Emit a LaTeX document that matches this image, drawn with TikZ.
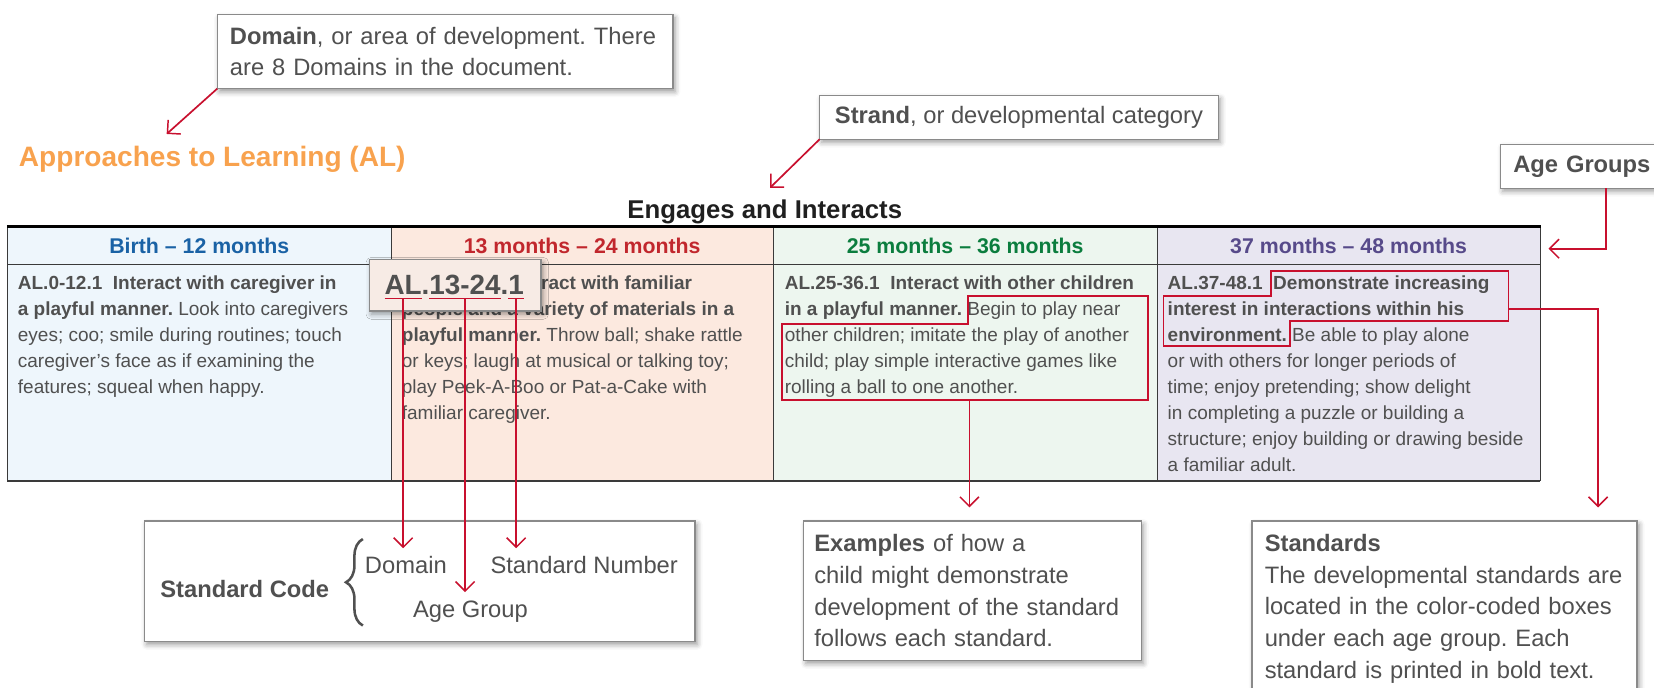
\documentclass[tikz,border=0pt]{standalone}
\usepackage{fontspec}
\setmainfont{Liberation Sans}
\usetikzlibrary{arrows.meta,shadows.blur,decorations.pathreplacing}
\definecolor{txt}{HTML}{505050}
\definecolor{boxline}{HTML}{8A8A8A}
\definecolor{redc}{HTML}{C8102E}
\definecolor{orng}{HTML}{F8A24E}
\definecolor{hblue}{HTML}{1A62A5}
\definecolor{hred}{HTML}{C1272D}
\definecolor{hgreen}{HTML}{0B7D3E}
\definecolor{hpurple}{HTML}{574A8A}
\definecolor{fblue}{HTML}{EEF6FC}
\definecolor{fred}{HTML}{FCE9DF}
\definecolor{fgreen}{HTML}{EDF6EF}
\definecolor{fpurple}{HTML}{E8E6F1}
\definecolor{popfill}{HTML}{F7EBE5}
\definecolor{tline}{HTML}{3A3A3A}
\newcommand\fBody{\fontsize{18}{24.7}\selectfont}
\newcommand\fBox{\fontsize{22.5}{30}\selectfont}
\newcommand\fHead{\fontsize{20.2}{24}\selectfont\bfseries}
\newcommand\fEng{\fontsize{24.4}{28}\selectfont\bfseries}
\newcommand\fDom{\fontsize{26.6}{30}\selectfont\bfseries}
\newcommand\fCode{\fontsize{26.4}{30}\selectfont\bfseries}
\frenchspacing
\begin{document}
\frenchspacing
\begin{tikzpicture}[x=1pt,y=-1pt,
  every node/.style={inner sep=0pt,outer sep=0pt},
  shade box/.style={blur shadow={shadow xshift=2pt,shadow yshift=-3pt,shadow blur radius=5pt,shadow opacity=40}},
  callout/.style={draw=boxline,line width=1.3pt,fill=white,text=txt,font=\fBox,align=left,shade box},
  hcell/.style={anchor=north west,minimum height=35.5pt,font=\fHead},
  bcell/.style={anchor=north west,minimum height=205.5pt},
  bodytext/.style={anchor=north west,font=\fBody,text=txt,align=left},
  codepart/.style={anchor=base west,font=\fCode,text=txt},
  sclab/.style={anchor=base west,font=\fBox,text=txt},
  redline/.style={draw=redc,line width=1.6pt},
  redarrow/.style={redline,-{Straight Barb[length=9pt,width=18pt,line width=1.4pt]}},
  redframe/.style={draw=redc,line width=1.8pt,line join=miter}]
\useasboundingbox (0,0) rectangle (1568,651.3);

% titles
\node[anchor=base west,font=\fDom,text=orng] (domtitle) at (18,158) {Approaches to Learning (AL)};
\node[anchor=base,font=\fEng,text=black!88] (strtitle) at (725,207) {Engages and Interacts};

% table header cells
\node[hcell,fill=fblue,text=hblue,minimum width=363.8pt] (h1) at (7,215) {Birth – 12 months};
\node[hcell,fill=fred,text=hred,minimum width=362.2pt] (h2) at (h1.north east) {13 months – 24 months};
\node[hcell,fill=fgreen,text=hgreen,minimum width=364pt] (h3) at (h2.north east) {25 months – 36 months};
\node[hcell,fill=fpurple,text=hpurple,minimum width=363pt] (h4) at (h3.north east) {37 months – 48 months};
% body cells
\node[bcell,fill=fblue,minimum width=363.8pt] (b1) at (h1.south west) {};
\node[bcell,fill=fred,minimum width=362.2pt] (b2) at (h2.south west) {};
\node[bcell,fill=fgreen,minimum width=364pt] (b3) at (h3.south west) {};
\node[bcell,fill=fpurple,minimum width=363pt] (b4) at (h4.south west) {};

% table lines
\draw[tline,line width=1pt] (h1.south west) -- (h4.south east);
\draw[tline,line width=1pt] (b1.south west) -- (b4.south east);
\draw[tline,line width=0.9pt] (h1.north east) -- (b1.south east);
\draw[tline,line width=0.9pt] (h2.north east) -- (b2.south east);
\draw[tline,line width=0.9pt] (h3.north east) -- (b3.south east);
\draw[tline,line width=0.9pt] (h1.north west) -- (b1.south west);
\draw[tline,line width=0.9pt] (h4.north east) -- (b4.south east);
\draw[black,line width=2.6pt] ([xshift=-0.45pt]h1.north west) -- ([xshift=0.45pt]h4.north east);

% body texts
\node[bodytext] (t1) at (17,261.4) {\textbf{AL.0-12.1\ \ Interact with caregiver in}\\
\textbf{a playful manner.} Look into caregivers\\
eyes; coo; smile during routines; touch\\
caregiver’s face as if examining the\\
features; squeal when happy.};
\node[bodytext] (t2) at (381,261.4) {\textbf{AL.13-24.1\ \ Interact with familiar}\\
\textbf{people and a variety of materials in a}\\
\textbf{playful manner.} Throw ball; shake rattle\\
or keys; laugh at musical or talking toy;\\
play Peek-A-Boo or Pat-a-Cake with\\
familiar caregiver.};
\node[bodytext] (t3) at (744,261.4) {\textbf{AL.25-36.1\ \ Interact with other children}\\
\textbf{in a playful manner.} Begin to play near\\
other children; imitate the play of another\\
child; play simple interactive games like\\
rolling a ball to one another.};
\node[bodytext] (t4) at (1107,261.4) {\textbf{AL.37-48.1\ \ Demonstrate increasing}\\
\textbf{interest in interactions within his}\\
\textbf{environment.} Be able to play alone\\
or with others for longer periods of\\
time; enjoy pretending; show delight\\
in completing a puzzle or building a\\
structure; enjoy building or drawing beside\\
a familiar adult.};

% red frames
\draw[redframe] (918,281) -- (1088,281) -- (1088,379) -- (741,379) -- (741,307) -- (918,307) -- cycle;
\draw[redframe] (1205,257) -- (1430,257) -- (1430,304) -- (1223,304) -- (1223,328) -- (1103,328) -- (1103,281) -- (1205,281) -- cycle;
\coordinate (exout) at (919,379);
\coordinate (stout) at (1430,293);
\coordinate (stcorner) at (1515,293);

% popup code
\node[draw=boxline,line width=1.3pt,fill=popfill,shade box,anchor=north west,minimum width=163pt,minimum height=48.7pt] (pop) at (350,246) {};
\node[codepart] (cAL) at (364.6,279) {AL};
\node[codepart] (cd1) at (cAL.base east) {.};
\node[codepart] (cAge) at (cd1.base east) {13-24};
\node[codepart] (cd2) at (cAge.base east) {.};
\node[codepart] (cNum) at (cd2.base east) {1};
\draw[redline] ([yshift=-4pt]cAL.base west) -- ([yshift=-4pt]cAL.base east);
\draw[redline] ([yshift=-4pt]cAge.base west) -- ([yshift=-4pt]cAge.base east);
\draw[redline] ([yshift=-4pt]cNum.base west) -- ([yshift=-4pt]cNum.base east);

% callouts
\node[callout,anchor=north west,text width=408pt,inner xsep=12pt,minimum height=70pt] (dombox) at (206,14) {\textbf{Domain}, or area of development. There\\are 8 Domains in the document.};
\node[callout,minimum width=378pt,minimum height=41.5pt] (strbox) at (966,111.25) {\textbf{Strand}, or developmental category};
\node[callout,anchor=north west,text width=176pt,inner xsep=12pt,minimum height=41.5pt] (agebox) at (1422.6,137) {\textbf{Age Groups}};
\node[callout,anchor=north west,text width=300pt,inner xsep=10pt,minimum height=132pt] (exbox) at (762,494) {\textbf{Examples} of how a\\child might demonstrate\\development of the standard\\follows each standard.};
\node[callout,anchor=north west,text width=341pt,inner xsep=12pt,inner ysep=12.6pt] (stbox) at (1187,494) {\textbf{Standards}\\The developmental standards are\\located in the color-coded boxes\\under each age group. Each\\standard is printed in bold text.};

% standard code box
\node[callout,anchor=north west,minimum width=522pt,minimum height=114pt] (scbox) at (137,494) {};
\node[sclab,font=\fBox\bfseries] (sclabel) at (152,566) {Standard Code};
\node[sclab] (scdom) at (346,544) {Domain};
\node[sclab] (scnum) at (465,544) {Standard Number};
\node[sclab] (scage) at (391.6,585) {Age Group};
\draw[txt,line width=2.4pt,decorate,decoration={brace,amplitude=16pt}] (344,593) -- (344,511);

% connectors
\coordinate (domtip) at (158,127);
\coordinate (strtip) at (730,178);
\draw[redarrow] (dombox.south west) -- (domtip);
\draw[redarrow] (strbox.south west) -- (strtip);
\draw[redarrow] (agebox.south) |- ([xshift=8pt,yshift=-3pt]h4.east);
\draw[redarrow,shorten >=13pt] (exout) -- (exout |- exbox.north);
\draw[redarrow,shorten >=13pt] (stout) -- (stcorner) -- (stcorner |- stbox.north);
\draw[redarrow,shorten >=8pt] ([yshift=-4pt]cAL.base) -- (cAL.base |- scdom.north);
\draw[redarrow,shorten >=8pt] ([yshift=-4pt]cAge.base) -- (cAge.base |- scage.north);
\draw[redarrow,shorten >=8pt] ([yshift=-4pt]cNum.base) -- (cNum.base |- scnum.north);
\end{tikzpicture}
\end{document}
